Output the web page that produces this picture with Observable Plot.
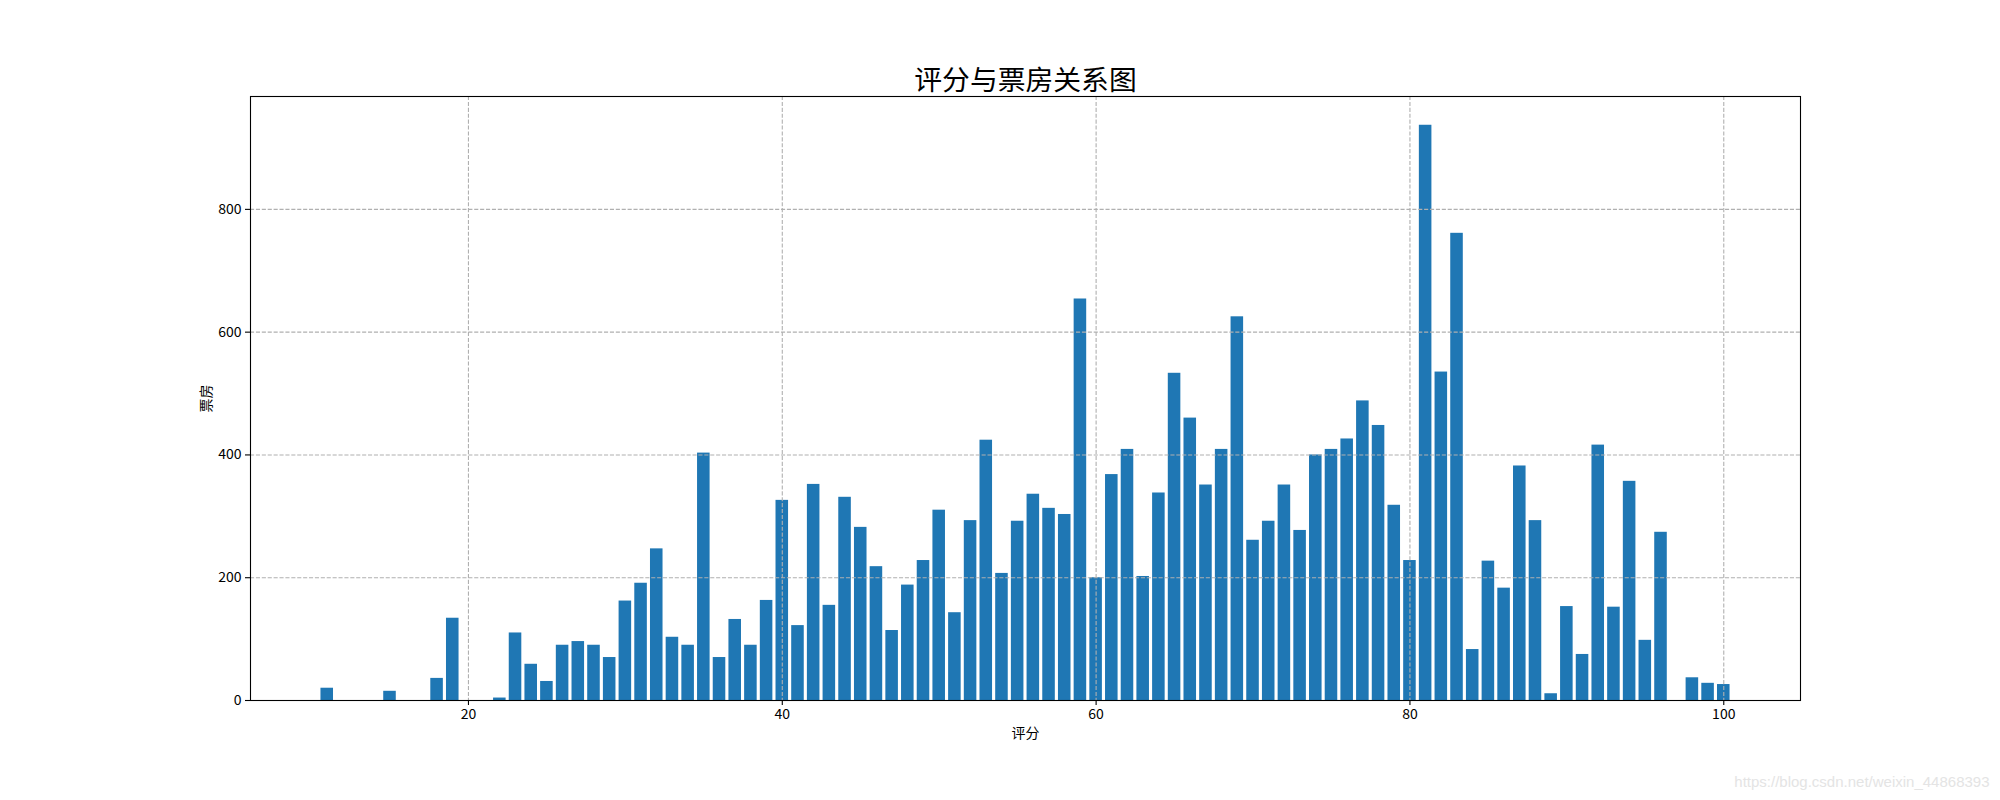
<!DOCTYPE html>
<html>
<head>
<meta charset="utf-8">
<script src="https://cdn.jsdelivr.net/npm/d3@7"></script>
<script src="https://cdn.jsdelivr.net/npm/@observablehq/plot@0.6"></script>
<style>
  html, body { margin: 0; padding: 0; background: #ffffff; }
  #chart { width: 2000px; height: 800px; }
</style>
</head>
<body>
<div id="chart"></div>
<script>
const scores = [11, 15, 18, 19, 22, 23, 24, 25, 26, 27, 28, 29, 30, 31, 32, 33, 34, 35, 36, 37, 38, 39,
  40, 41, 42, 43, 44, 45, 46, 47, 48, 49, 50, 51, 52, 53, 54, 55, 56, 57, 58, 59,
  60, 61, 62, 63, 64, 65, 66, 67, 68, 69, 70, 71, 72, 73, 74, 75, 76, 77, 78, 79,
  80, 81, 82, 83, 84, 85, 86, 87, 88, 89, 90, 91, 92, 93, 94, 95, 96, 98, 99, 100];
const boxOffice = [20, 15, 36, 134, 4, 110, 59, 31, 90, 96, 90, 70, 162, 191, 247, 103, 90, 403, 70, 132, 90, 163,
  326, 122, 352, 155, 331, 282, 218, 114, 188, 228, 310, 143, 293, 424, 207, 292, 336, 313, 303, 654,
  200, 368, 409, 202, 338, 533, 460, 351, 409, 625, 261, 292, 351, 277, 400, 409, 426, 488, 448, 318,
  228, 937, 535, 761, 83, 227, 183, 382, 293, 11, 153, 75, 416, 152, 357, 98, 274, 37, 28, 26];
const xTicks = [20, 40, 60, 80, 100];
const yTicks = [0, 200, 400, 600, 800];
const titleText = "评分与票房关系图";
const xLabel = "评分";
const yLabel = "票房";
const watermark = "https://blog.csdn.net/weixin_44868393";

const data = scores.map((s, i) => ({score: s, value: boxOffice[i]}));
const barWidth = 0.8;
const xMin = d3.min(scores) - barWidth / 2, xMax = d3.max(scores) + barWidth / 2;
const xPad = (xMax - xMin) * 0.05;
const yMax = d3.max(boxOffice) * 1.05;

const gridStyle = {stroke: "#b0b0b0", strokeOpacity: 1, strokeWidth: 1.1, strokeDasharray: "4.1,1.8"};

const chart = Plot.plot({
  width: 2000,
  height: 800,
  marginTop: 96,
  marginRight: 200,
  marginBottom: 100,
  marginLeft: 250,
  style: {fontFamily: "'Noto Sans CJK SC', sans-serif", fontSize: "14px", background: "#ffffff", color: "#000000"},
  x: {type: "linear", domain: [xMin - xPad, xMax + xPad]},
  y: {type: "linear", domain: [0, yMax]},
  marks: [
    Plot.rect(data, {x1: d => d.score - barWidth / 2, x2: d => d.score + barWidth / 2, y1: 0, y2: "value", fill: "#1f77b4"}),
    Plot.gridX(xTicks, gridStyle),
    Plot.gridY(yTicks, gridStyle),
    Plot.frame({stroke: "#000000", strokeWidth: 1.1}),
    Plot.axisX(xTicks, {tickSize: 5, tickPadding: 4, strokeWidth: 1.1, fontSize: 14, label: xLabel, labelAnchor: "center", labelOffset: 37, labelArrow: false}),
    Plot.axisY(yTicks, {tickSize: 5, tickPadding: 4, strokeWidth: 1.1, fontSize: 14, label: yLabel, labelAnchor: "center", labelOffset: 49, labelArrow: false}),
    Plot.text([titleText], {text: d => d, frameAnchor: "top", dy: -7, lineAnchor: "bottom", fontSize: 27.8}),
    Plot.text([watermark], {text: d => d, frameAnchor: "bottom-right", dx: 189, dy: 82, textAnchor: "end", lineAnchor: "middle", fill: "#e4e4e4", fontSize: 15, fontFamily: "'Liberation Sans', Arial, sans-serif"})
  ]
});
document.getElementById("chart").appendChild(chart);
</script>
</body>
</html>
